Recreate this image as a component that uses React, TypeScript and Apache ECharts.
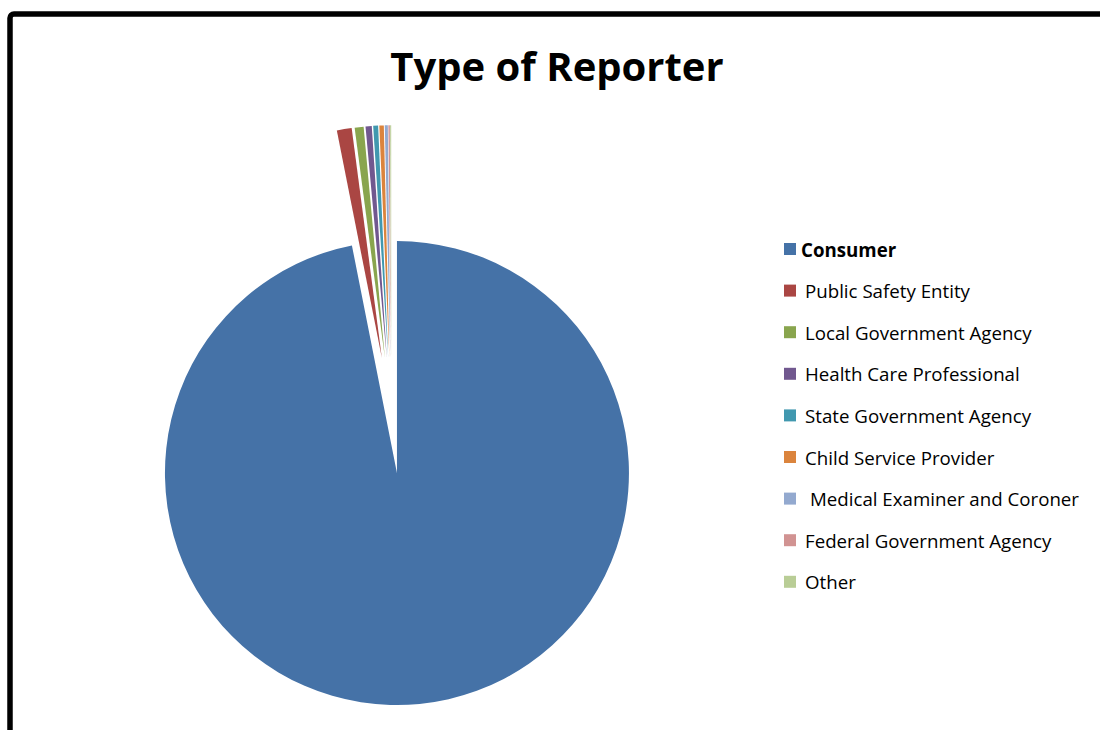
import React, { useEffect, useRef } from "react";
import * as echarts from "echarts";

const categories = [
  "Consumer",
  "Public Safety Entity",
  "Local Government Agency",
  "Health Care Professional",
  "State Government Agency",
  "Child Service Provider",
  "Medical Examiner and Coroner",
  "Federal Government Agency",
  "Other",
];
const shares = [96.89, 1.03, 0.62, 0.43, 0.34, 0.31, 0.21, 0.1, 0.07];
const colors = [
  "#4572A7",
  "#AA4643",
  "#89A54E",
  "#71588F",
  "#4198AF",
  "#DB843D",
  "#93A9CF",
  "#D19392",
  "#B9CD96",
];
const titleText = "Type of Reporter";

const FONT = "'Open Sans', Lato, sans-serif";
const LEGEND_SIZE = 18.7;

export default function App() {
  const ref = useRef<HTMLDivElement>(null);
  useEffect(() => {
    if (!ref.current) return;
    const chart = echarts.init(ref.current, undefined, { renderer: "svg" });
    const data = categories.map((name, i) => ({
      name,
      value: shares[i],
      selected: true,
      itemStyle: { color: colors[i] },
    }));
    const txt = (extra: object) => ({
      fontFamily: FONT,
      fontSize: LEGEND_SIZE,
      lineHeight: 22,
      color: "#000",
      ...extra,
    });
    chart.setOption({
      animation: false,
      backgroundColor: "#ffffff",
      color: colors,
      graphic: [
        {
          type: "rect",
          shape: { x: 10, y: 14, width: 1300, height: 900, r: 4 },
          style: { fill: "none", stroke: "#000000", lineWidth: 5.5 },
          silent: true,
        },
        {
          type: "text",
          x: 557,
          y: 65,
          style: {
            text: titleText,
            fontFamily: FONT,
            fontWeight: "bold",
            fontSize: 40,
            fill: "#000000",
            textAlign: "center",
            textVerticalAlign: "middle",
          },
        },
      ],
      legend: {
        orient: "vertical",
        left: 784,
        top: 238,
        padding: 0,
        icon: "rect",
        itemWidth: 12,
        itemHeight: 12,
        itemGap: 19.6,
        selectedMode: false,
        data: categories,
        formatter: (name: string) =>
          name === "Consumer"
            ? `{b|${name}}`
            : name.startsWith("Medical")
            ? `{m|${name}}`
            : `{n|${name}}`,
        textStyle: {
          fontFamily: FONT,
          fontSize: LEGEND_SIZE,
          lineHeight: 22,
          color: "#000000",
          rich: {
            b: txt({ fontWeight: "bold" }),
            n: txt({ padding: [0, 0, 0, 4] }),
            m: txt({ padding: [0, 0, 0, 9] }),
          },
        },
      },
      series: [
        {
          type: "pie",
          center: [391.3, 415.3],
          radius: 232,
          startAngle: 90,
          clockwise: true,
          selectedMode: "multiple",
          selectedOffset: 58,
          label: { show: false },
          labelLine: { show: false },
          emphasis: { scale: false },
          itemStyle: { borderWidth: 0 },
          data,
        },
      ],
    });
    return () => chart.dispose();
  }, []);
  return (
    <div
      ref={ref}
      style={{ position: "fixed", left: 0, top: 0, width: 1100, height: 730 }}
    />
  );
}
